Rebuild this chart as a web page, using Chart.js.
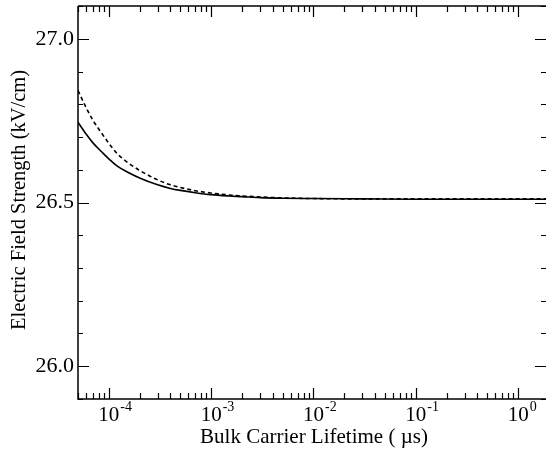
<!DOCTYPE html>
<html>
<head>
<meta charset="utf-8">
<script src="https://cdn.jsdelivr.net/npm/chart.js@4"></script>
<style>
  body { margin: 0; background: #fff; }
  #wrap { width: 546px; height: 457px; position: relative; }
</style>
</head>
<body>
<div id="wrap"><canvas id="fieldChart"></canvas></div>
<script>
// lifetimes in microseconds
var lifetimes   = [5e-5, 6e-5, 7e-5, 8.5e-5, 1e-4, 1.2e-4, 1.5e-4, 2e-4, 3e-4, 4e-4, 5e-4, 7e-4, 1e-3, 1.5e-3, 2e-3, 3e-3, 5e-3, 1e-2, 3e-2, 0.1, 0.3, 1, 1.9];
var solidField  = [26.745, 26.709, 26.682, 26.655, 26.633, 26.612, 26.594, 26.575, 26.554, 26.543, 26.537, 26.530, 26.524, 26.520, 26.518, 26.515, 26.513, 26.512, 26.511, 26.510, 26.510, 26.510, 26.510];
var dashedField = [26.842, 26.790, 26.751, 26.712, 26.681, 26.650, 26.624, 26.598, 26.569, 26.554, 26.546, 26.536, 26.529, 26.523, 26.520, 26.517, 26.514, 26.512, 26.511, 26.511, 26.511, 26.511, 26.511];

// axis ticks
var xMajorTicks = [1e-4, 1e-3, 1e-2, 1e-1, 1];
var xTickExponents = ['-4', '-3', '-2', '-1', '0'];
var yMajorTicks = [26.0, 26.5, 27.0];
var yTickLabels = ['26.0', '26.5', '27.0'];
var yMinorTicks = [25.9, 26.1, 26.2, 26.3, 26.4, 26.6, 26.7, 26.8, 26.9, 27.1];

var xTitle = 'Bulk Carrier Lifetime ( \u00b5s)';
var yTitle = 'Electric Field Strength (kV/cm)';

function toPoints(xs, ys) {
    return xs.map(function (x, i) { return { x: x, y: ys[i] }; });
}

var SERIF = '"Liberation Serif", "Times New Roman", serif';

// frame, inward ticks and labels drawn like the original plot
var framePlugin = {
    id: 'frame',
    afterDraw: function (chart) {
        var ctx = chart.ctx;
        var a = chart.chartArea;
        var xs = chart.scales.x;
        var ys = chart.scales.y;
        ctx.save();
        ctx.strokeStyle = '#000';
        ctx.fillStyle = '#000';
        ctx.lineWidth = 1.5;

        // frame
        ctx.beginPath();
        ctx.moveTo(a.left, a.top);
        ctx.lineTo(a.left, a.bottom);
        ctx.lineTo(a.right + 2, a.bottom);
        ctx.moveTo(a.left, a.top);
        ctx.lineTo(a.right + 2, a.top);
        ctx.stroke();

        // x ticks (top and bottom)
        ctx.lineWidth = 1.2;
        ctx.beginPath();
        for (var d = -5; d <= 0; d++) {
            for (var m = 1; m <= 9; m++) {
                var v = m * Math.pow(10, d);
                if (v < xs.min || v > xs.max) continue;
                var px = Math.round(xs.getPixelForValue(v)) + 0.5;
                var len = (m === 1) ? 11 : 6;
                ctx.moveTo(px, a.bottom);
                ctx.lineTo(px, a.bottom - len);
                ctx.moveTo(px, a.top);
                ctx.lineTo(px, a.top + len);
            }
        }
        // y ticks (left and right)
        yMajorTicks.forEach(function (v) {
            var py = Math.round(ys.getPixelForValue(v)) + 0.5;
            ctx.moveTo(a.left, py);
            ctx.lineTo(a.left + 11, py);
            ctx.moveTo(a.right, py);
            ctx.lineTo(a.right - 11, py);
        });
        yMinorTicks.forEach(function (v) {
            var py = Math.round(ys.getPixelForValue(v)) + 0.5;
            ctx.moveTo(a.left, py);
            ctx.lineTo(a.left + 5, py);
            ctx.moveTo(a.right, py);
            ctx.lineTo(a.right - 5, py);
        });
        ctx.stroke();

        // y tick labels
        ctx.font = '22px ' + SERIF;
        ctx.textAlign = 'right';
        ctx.textBaseline = 'middle';
        yMajorTicks.forEach(function (v, i) {
            ctx.fillText(yTickLabels[i], a.left - 4, ys.getPixelForValue(v));
        });

        // x tick labels: 10 with raised exponent
        ctx.textBaseline = 'alphabetic';
        xMajorTicks.forEach(function (v, i) {
            var px = xs.getPixelForValue(v);
            ctx.font = '21px ' + SERIF;
            ctx.textAlign = 'center';
            ctx.fillText('10', px, 421);
            var w = ctx.measureText('10').width;
            ctx.font = '14px ' + SERIF;
            ctx.textAlign = 'left';
            ctx.fillText(xTickExponents[i], px + w / 2 + 1, 411);
        });

        // axis titles
        ctx.font = '21px ' + SERIF;
        ctx.textAlign = 'center';
        ctx.fillText(xTitle, 314, 443);
        ctx.font = '20.5px ' + SERIF;
        ctx.translate(25, 200);
        ctx.rotate(-Math.PI / 2);
        ctx.fillText(yTitle, 0, 0);
        ctx.restore();
    }
};

var ctx = document.getElementById('fieldChart').getContext('2d');
var fieldChart = new Chart(ctx, {
    type: 'line',
    data: {
        datasets: [{
            label: 'solid',
            data: toPoints(lifetimes, solidField),
            borderColor: '#000',
            borderWidth: 1.6,
            pointRadius: 0,
            cubicInterpolationMode: 'monotone',
            fill: false
        }, {
            label: 'dashed',
            data: toPoints(lifetimes, dashedField),
            borderColor: '#000',
            borderWidth: 1.6,
            borderDash: [4, 3],
            pointRadius: 0,
            cubicInterpolationMode: 'monotone',
            fill: false
        }]
    },
    options: {
        responsive: true,
        maintainAspectRatio: false,
        animation: false,
        layout: { padding: { left: 78, right: 0, top: 6, bottom: 58 } },
        plugins: { legend: { display: false }, tooltip: { enabled: false } },
        scales: {
            x: { type: 'logarithmic', min: 5e-5, max: 1.87, display: false },
            y: { type: 'linear', min: 25.9, max: 27.1, display: false }
        }
    },
    plugins: [framePlugin]
});
</script>
</body>
</html>
